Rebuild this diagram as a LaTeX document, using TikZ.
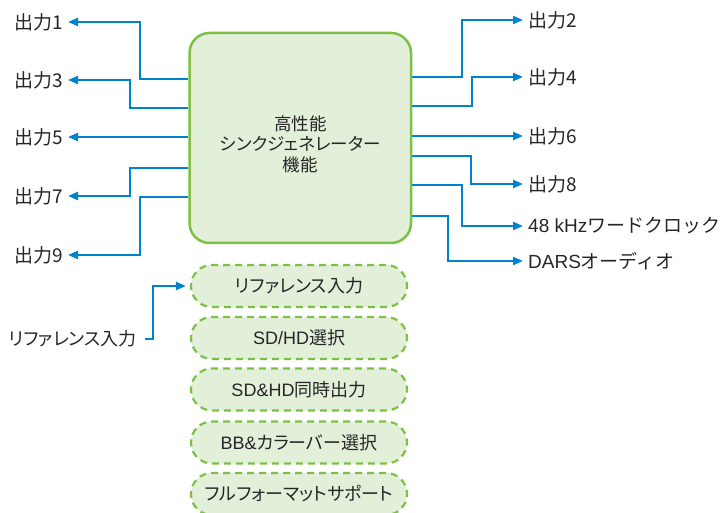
\documentclass[tikz,border=0pt]{standalone}
\usepackage{fontspec}
\setmainfont{Noto Sans CJK JP}
\newfontfamily\pj[RawFeature=+palt]{Noto Sans CJK JP}
\newfontfamily\lat{Liberation Sans}
\usetikzlibrary{arrows.meta}
\definecolor{lineblue}{RGB}{0,130,204}
\definecolor{boxgreen}{RGB}{125,192,70}
\definecolor{fillgreen}{RGB}{226,239,217}
\begin{document}
\begin{tikzpicture}[x=1pt,y=-1pt,
  arr/.style={draw=lineblue,line width=2.2pt,-{Triangle[length=10pt,width=8pt]}},
  lbl/.style={font=\fontsize{19}{22}\selectfont,text=black!85,inner xsep=5pt,inner ysep=0pt},
  lleft/.style={lbl,anchor=east},
  lright/.style={lbl,anchor=west},
  mainbox/.style={draw=boxgreen,fill=fillgreen,line width=2.5pt,rounded corners=20pt,minimum width=221.5pt,minimum height=210pt},
  maintext/.style={align=center,font=\pj\fontsize{17.5}{20.5}\selectfont,text=black!85,inner sep=0pt},
  pill/.style={draw=boxgreen,fill=fillgreen,line width=2.2pt,dash pattern=on 7pt off 5pt,rounded corners=20.9pt,minimum width=216pt,minimum height=42pt,font=\pj\fontsize{18}{20}\selectfont,text=black!85,inner sep=0pt}
]
\useasboundingbox (0,0) rectangle (726,513);

\node[mainbox] (main) at (300.25,138) {};
\node[maintext] (mtext) at (300.25,144) {高性能\\シンクジェネレーター\\機能};

% left labels
\node[lleft] (o1) at (68,22) {出力1};
\node[lleft] (o3) at (68,80) {出力3};
\node[lleft] (o5) at (68,137) {出力5};
\node[lleft] (o7) at (68,196) {出力7};
\node[lleft] (o9) at (68,255) {出力9};

% right labels
\node[lright] (o2) at (523,20) {出力2};
\node[lright] (o4) at (523,77) {出力4};
\node[lright] (o6) at (523,136) {出力6};
\node[lright] (o8) at (523,184) {出力8};
\node[lright] (o48) at (523,226) {{\lat 48 kHz}ワードクロック};
\node[lright] (od) at (523,261) {{\lat DARS}オーディオ};

% left connectors
\draw[arr] (main.west |- 0,79) -- (140,79) |- (o1.east);
\draw[arr] (main.west |- 0,108) -- (130,108) |- (o3.east);
\draw[arr] (main.west |- 0,137) -- (o5.east);
\draw[arr] (main.west |- 0,168) -- (130,168) |- (o7.east);
\draw[arr] (main.west |- 0,197) -- (140,197) |- (o9.east);

% right connectors
\draw[arr] (main.east |- 0,77) -- (462,77) |- (o2.west);
\draw[arr] (main.east |- 0,106) -- (472,106) |- (o4.west);
\draw[arr] (main.east |- 0,136) -- (o6.west);
\draw[arr] (main.east |- 0,156) -- (471,156) |- (o8.west);
\draw[arr] (main.east |- 0,185) -- (462,185) |- (o48.west);
\draw[arr] (main.east |- 0,216) -- (448,216) |- (od.west);

% pills
\node[pill] (p1) at (299,286) {リファレンス入力};
\node[pill] (p2) at (299,338) {{\lat SD/HD}選択};
\node[pill] (p3) at (299,389.5) {{\lat SD\&HD}同時出力};
\node[pill] (p4) at (299,442.5) {{\lat BB\&}カラーバー選択};
\node[pill] (p5) at (299,494) {フルフォーマットサポート};

% reference input
\node[font=\pj\fontsize{18}{20}\selectfont,text=black!85,anchor=east,inner xsep=8pt,inner ysep=0pt] (ref) at (145,339) {リファレンス入力};
\draw[arr] (ref.east) -- (153,339) |- ([xshift=-4pt]p1.west);
\end{tikzpicture}
\end{document}
